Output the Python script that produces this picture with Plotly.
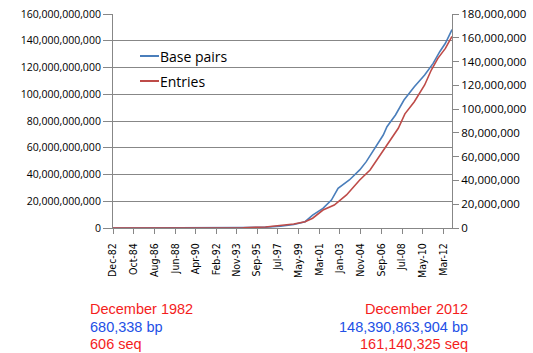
import plotly.graph_objects as go

# Base pairs (left axis)
bp_dates = ["1982-12-01", "1985-06-01", "1988-06-01", "1991-06-01", "1994-06-01",
            "1996-06-01", "1997-10-01", "1998-12-01", "1999-12-01", "2000-08-01",
            "2001-07-01", "2002-04-01", "2002-11-01", "2003-11-01", "2004-10-01",
            "2005-05-01", "2006-02-01", "2006-11-01", "2007-03-01", "2007-12-01",
            "2008-09-01", "2009-08-01", "2010-07-01", "2011-04-01", "2011-11-01",
            "2012-05-01", "2012-12-01"]
bp_values = [680338, 5.2e6, 4.4e7, 1.2e8, 2.7e8,
             6.5e8, 1.3e9, 2.6e9, 4.7e9, 9.7e9,
             14.7e9, 20.9e9, 29.7e9, 35.9e9, 43.4e9,
             49.6e9, 59.6e9, 69.5e9, 75.7e9, 84.5e9,
             95.7e9, 105.6e9, 114.4e9, 123.1e9, 131.8e9,
             138.1e9, 148390863904]

# Entries (right axis)
seq_dates = ["1982-12-01", "1985-06-01", "1988-06-01", "1991-06-01", "1994-06-01",
             "1996-06-01", "1997-10-01", "1998-12-01", "1999-12-01", "2000-08-01",
             "2001-07-01", "2002-07-01", "2003-08-01", "2004-10-01", "2005-09-01",
             "2006-08-01", "2007-04-01", "2008-03-01", "2008-10-01", "2009-08-01",
             "2010-07-01", "2011-02-01", "2011-09-01", "2012-05-01", "2012-12-01"]
seq_values = [606, 5700, 2.5e4, 6.0e4, 2.5e5,
              9.0e5, 2.2e6, 3.4e6, 5.3e6, 8.2e6,
              15.1e6, 19.3e6, 27.8e6, 40.4e6, 48.8e6,
              61.4e6, 71.2e6, 83.9e6, 96.0e6, 106.2e6,
              120.3e6, 132.9e6, 142.7e6, 151.1e6, 161140325]

tick_dates = ["1982-12-01", "1984-10-01", "1986-08-01", "1988-06-01", "1990-04-01",
              "1992-02-01", "1993-11-01", "1995-09-01", "1997-07-01", "1999-05-01",
              "2001-03-01", "2003-01-01", "2004-11-01", "2006-09-01", "2008-07-01",
              "2010-05-01", "2012-03-01"]
tick_labels = ["Dec-82", "Oct-84", "Aug-86", "Jun-88", "Apr-90", "Feb-92", "Nov-93",
               "Sep-95", "Jul-97", "May-99", "Mar-01", "Jan-03", "Nov-04", "Sep-06",
               "Jul-08", "May-10", "Mar-12"]

left_ticks = [0, 20e9, 40e9, 60e9, 80e9, 100e9, 120e9, 140e9, 160e9]
right_ticks = [0, 20e6, 40e6, 60e6, 80e6, 100e6, 120e6, 140e6, 160e6, 180e6]

series_names = ["Base pairs", "Entries"]
blue_line = "#4a7ebb"
red_line = "#be4b48"
red_text = "#f41d1d"
blue_text = "#2250e6"
grid = "#878787"

L, R, T, B = 113, 452, 14, 228
W, H = R - L, B - T

def px(x):
    return (x - L) / W

def py(y):
    return 1 - (y - T) / H

fig = go.Figure()
fig.add_trace(go.Scatter(x=bp_dates, y=bp_values, mode="lines", name=series_names[0],
                         line=dict(color=blue_line, width=1.6), yaxis="y"))
fig.add_trace(go.Scatter(x=seq_dates, y=seq_values, mode="lines", name=series_names[1],
                         line=dict(color=red_line, width=1.6), yaxis="y2"))

fig.update_layout(
    width=533, height=353,
    margin=dict(l=L, r=533 - R, t=T, b=353 - B),
    paper_bgcolor="white", plot_bgcolor="white",
    showlegend=False,
    xaxis=dict(type="date", range=["1982-12-01", "2012-12-01"],
               tickvals=tick_dates, ticktext=tick_labels, tickangle=-90,
               tickfont=dict(family="Liberation Sans Narrow, Arial Narrow, DejaVu Sans Condensed",
                             size=10.5, color="#000000"),
               ticks="outside", ticklen=5, tickcolor=grid, ticklabelstandoff=5,
               showgrid=False, showline=True, linecolor=grid, linewidth=1,
               zeroline=False, automargin=False),
    yaxis=dict(range=[0, 160e9], tickvals=left_ticks, tickformat=",d",
               tickfont=dict(family="Open Sans", size=10.5, color="#000000"),
               ticks="outside", ticklen=9, tickcolor=grid,
               showgrid=True, gridcolor=grid, gridwidth=1,
               showline=True, linecolor=grid, linewidth=1, zeroline=False,
               automargin=False),
    yaxis2=dict(range=[0, 180e6], tickvals=right_ticks, tickformat=",d",
                tickfont=dict(family="Open Sans", size=11.5, color="#000000"),
                overlaying="y", side="right",
                ticks="outside", ticklen=6, tickcolor=grid,
                showgrid=False, showline=True, linecolor=grid, linewidth=1,
                zeroline=False, automargin=False),
)

# legend drawn by hand to match the reference placement
legend_y = [56, 81]
legend_colors = [blue_line, red_line]
for name, yy, col in zip(series_names, legend_y, legend_colors):
    fig.add_shape(type="line", xref="paper", yref="paper",
                  x0=px(140), x1=px(159), y0=py(yy), y1=py(yy),
                  line=dict(color=col, width=2))
    fig.add_annotation(text=name, xref="paper", yref="paper",
                       x=px(158), y=py(yy),
                       xanchor="left", yanchor="middle", showarrow=False,
                       font=dict(family="Open Sans", size=14, color="#000000"))

# bottom notes
left_notes = [("December 1982", red_text), ("680,338 bp", blue_text), ("606 seq", red_text)]
right_notes = [("December 2012", red_text), ("148,390,863,904 bp", blue_text),
               ("161,140,325 seq", red_text)]
note_y = [309, 326.5, 344]
for (txt, col), yy in zip(left_notes, note_y):
    fig.add_annotation(text=txt, xref="paper", yref="paper",
                       x=px(88), y=py(yy),
                       xanchor="left", yanchor="middle", showarrow=False,
                       font=dict(family="Liberation Sans", size=14.5, color=col))
for (txt, col), yy in zip(right_notes, note_y):
    fig.add_annotation(text=txt, xref="paper", yref="paper",
                       x=px(470), y=py(yy),
                       xanchor="right", yanchor="middle", showarrow=False,
                       font=dict(family="Liberation Sans", size=14.5, color=col))

fig.write_html("out.html")
